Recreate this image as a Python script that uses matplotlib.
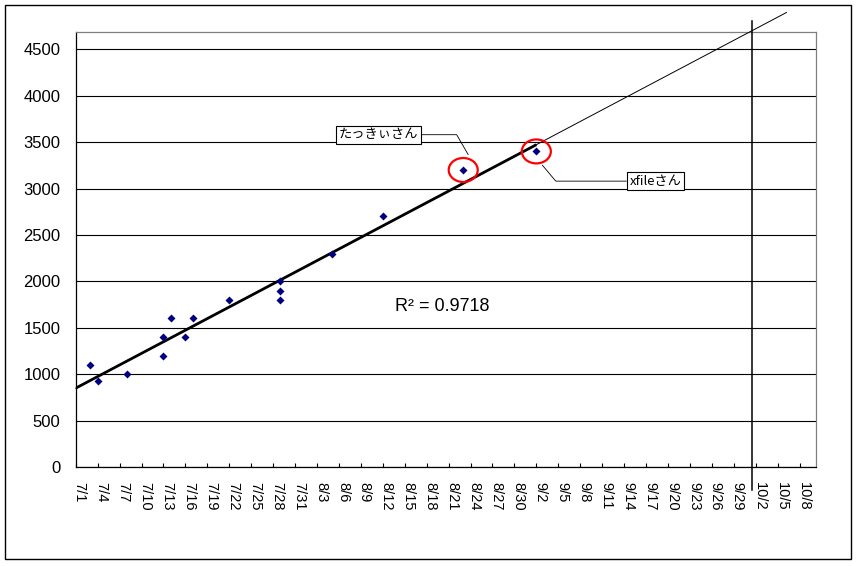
import matplotlib
matplotlib.use("Agg")
import matplotlib.pyplot as plt
import matplotlib.dates as mdates
import matplotlib.transforms as mtransforms
from matplotlib.patches import Ellipse, Rectangle
import numpy as np
import pandas as pd

# ---------------- data ----------------
dates = ["2006-07-03", "2006-07-04", "2006-07-08", "2006-07-13", "2006-07-13",
         "2006-07-14", "2006-07-16", "2006-07-17", "2006-07-22", "2006-07-29",
         "2006-07-29", "2006-07-29", "2006-08-05", "2006-08-12", "2006-08-23",
         "2006-09-02"]
values = [1100, 930, 1000, 1200, 1400, 1600, 1400, 1600, 1800, 2000,
          1900, 1800, 2300, 2700, 3200, 3400]
callout_names = ["たっきぃさん", "xfileさん"]
callout_index = [14, 15]
r2_label = "R\u00b2 = 0.9718"
axis_start = "2006-07-01"
axis_end = "2006-10-10 05:00"
tick_dates = pd.date_range("2006-07-01", "2006-10-08", freq="3D")
tick_labels = [f"{d.month}/{d.day}" for d in tick_dates]
y_ticks = list(range(0, 5000, 500))
y_max = 4690
trend_end = "2006-10-06 05:00"
marker_line_date = "2006-10-01 12:00"

plt.rcParams['font.family'] = ['Liberation Sans', 'Noto Sans CJK JP', 'DejaVu Sans']

x = mdates.date2num(pd.to_datetime(dates))
x0 = mdates.date2num(pd.Timestamp(axis_start))
x1 = mdates.date2num(pd.Timestamp(axis_end))
xt = mdates.date2num(pd.Timestamp(trend_end))
xv = mdates.date2num(pd.Timestamp(marker_line_date))
y = np.array(values, dtype=float)

slope, intercept = np.polyfit(x - x0, y, 1)

fig = plt.figure(figsize=(8.58, 5.66), dpi=100)
W, H = 858, 566
ax = fig.add_axes([75.7 / W, 1 - 467 / H, 740 / W, 435.3 / H])

ax.set_xlim(x0, x1)
ax.set_ylim(0, y_max)

# grid
ax.set_yticks(y_ticks)
ax.yaxis.grid(True, color='black', lw=0.8)
ax.set_axisbelow(True)

# spines
for s in ['left', 'bottom']:
    ax.spines[s].set_color('black')
    ax.spines[s].set_linewidth(0.9)
for s in ['top', 'right']:
    ax.spines[s].set_color('#808080')
    ax.spines[s].set_linewidth(0.9)

ax.tick_params(axis='y', length=0, pad=11, labelsize=12)
ax.set_xticks(mdates.date2num(tick_dates))
ax.set_xticklabels(tick_labels)
ax.tick_params(axis='x', direction='in', length=3, width=0.8, pad=11,
               labelsize=10.5, labelrotation=-90)
offset = mtransforms.ScaledTranslation(4 / 100, 0, fig.dpi_scale_trans)
for lab in ax.get_xticklabels():
    lab.set_transform(lab.get_transform() + offset)

# trend line (thick over the data range, thin forward forecast)
tx_thick = np.array([x0, x.max()])
ax.plot(tx_thick, intercept + slope * (tx_thick - x0), color='black', lw=2.0,
        zorder=4, solid_capstyle='butt')
tx_thin = np.array([x0, xt])
ax.plot(tx_thin, intercept + slope * (tx_thin - x0), color='black', lw=0.7,
        zorder=4, clip_on=False)

# data points
ax.plot(x, y, 'D', color='#000080', ms=4.5, mec='none', zorder=5)

# vertical marker line
ax.axvline(xv, ymin=-0.053, ymax=1.0246, color='black', lw=1.1,
           clip_on=False, zorder=4)

# R^2 text
ax.text(0.496, 0.368, r2_label, transform=ax.transAxes, ha='center',
        va='center', fontsize=13)

# callouts
callout_cfg = [
    dict(pt_off=(5, 15.3), txt_off=(-90, 20), relpos=(1, 0.5), angB=120),
    dict(pt_off=(6, -13.7), txt_off=(113, -16), relpos=(0, 0.5), angB=-50),
]
for name, idx, cfg in zip(callout_names, callout_index, callout_cfg):
    px, py = x[idx], y[idx]
    ax.add_patch(Ellipse((px, py), width=3.97, height=258, fill=False,
                         ec='#ff0000', lw=1.6, zorder=6))
    tr = mtransforms.offset_copy(ax.transData, fig=fig, x=cfg['pt_off'][0],
                                 y=cfg['pt_off'][1], units='dots')
    ax.annotate(name, xy=(px, py), xycoords=tr, xytext=cfg['txt_off'],
                textcoords='offset pixels', ha='center', va='center',
                fontsize=9.5, family=['Noto Sans CJK JP', 'DejaVu Sans'],
                bbox=dict(boxstyle='square,pad=0.2', fc='white', ec='black', lw=0.8),
                arrowprops=dict(arrowstyle='-', lw=0.6, color='black',
                                connectionstyle=f"angle,angleA=0,angleB={cfg['angB']},rad=0",
                                relpos=cfg['relpos'], shrinkA=0, shrinkB=0),
                zorder=7, annotation_clip=False)

# outer chart border
fig.add_artist(Rectangle((5 / W, 1 - 559 / H), 846 / W, 554 / H,
                         transform=fig.transFigure, fill=False,
                         ec='black', lw=1.0))

fig.savefig("out.png", dpi=100)
